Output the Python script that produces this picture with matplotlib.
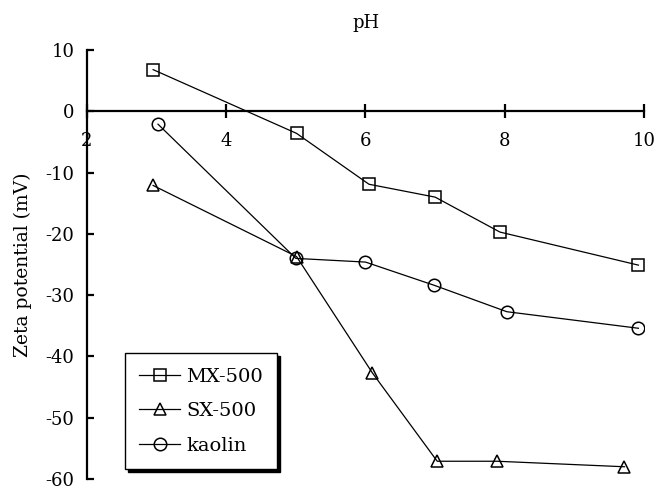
import matplotlib
matplotlib.use('Agg')
import matplotlib.pyplot as plt

plt.rcParams['font.family'] = ['DejaVu Serif']
plt.rcParams['axes.unicode_minus'] = False

# %% datos
ph_mx = [2.95, 5.01, 6.05, 7.0, 7.93, 9.92]
zeta_mx = [6.8, -3.6, -11.9, -14.0, -19.7, -25.1]

ph_sx = [2.95, 5.01, 6.1, 7.03, 7.89, 9.72]
zeta_sx = [-12.1, -23.7, -42.7, -57.1, -57.1, -58.0]

ph_kao = [3.02, 5.0, 6.0, 6.99, 8.03, 9.92]
zeta_kao = [-2.1, -24.0, -24.6, -28.4, -32.7, -35.4]

xticks = [2, 4, 6, 8, 10]
yticks = [-60, -50, -40, -30, -20, -10, 0, 10]

# %%
fig = plt.figure(figsize=(6.56, 4.91), dpi=100)
ax = fig.add_axes([0.1326, 0.0244, 0.8491, 0.8737])

estilo = dict(color='black', lw=0.9, mfc='none', mec='black', mew=1.1, ms=9)
ax.plot(ph_mx, zeta_mx, marker='s', label='MX-500', **estilo)
ax.plot(ph_sx, zeta_sx, marker='^', label='SX-500', **estilo)
ax.plot(ph_kao, zeta_kao, marker='o', label='kaolin', **estilo)

ax.set_xlim(2, 10)
ax.set_ylim(-60, 10)
ax.set_xticks(xticks)
ax.set_yticks(yticks)

ax.spines['top'].set_visible(False)
ax.spines['right'].set_visible(False)
ax.spines['bottom'].set_position(('data', 0))
ax.spines['left'].set_linewidth(1.6)
ax.spines['bottom'].set_linewidth(1.6)

ax.tick_params(axis='x', direction='inout', length=10, width=1.6, pad=10, labelsize=13)
ax.tick_params(axis='y', direction='in', length=5, width=1.6, pad=9, labelsize=13)

ax.xaxis.set_label_position('top')
ax.set_xlabel('pH', fontsize=13, labelpad=16)
ax.set_ylabel('Zeta potential (mV)', fontsize=13.5)
ax.yaxis.set_label_coords(-0.099, 0.5)

leg = ax.legend(loc='lower left', bbox_to_anchor=(0.068, 0.023), borderaxespad=0,
                fontsize=14, fancybox=False, edgecolor='black', framealpha=1,
                handlelength=2.1, handletextpad=0.3, labelspacing=0.85,
                borderpad=0.75,
                shadow={'facecolor': 'black', 'edgecolor': 'black', 'alpha': 1})
leg.get_frame().set_linewidth(1.0)

fig.savefig('out.png', dpi=100)
